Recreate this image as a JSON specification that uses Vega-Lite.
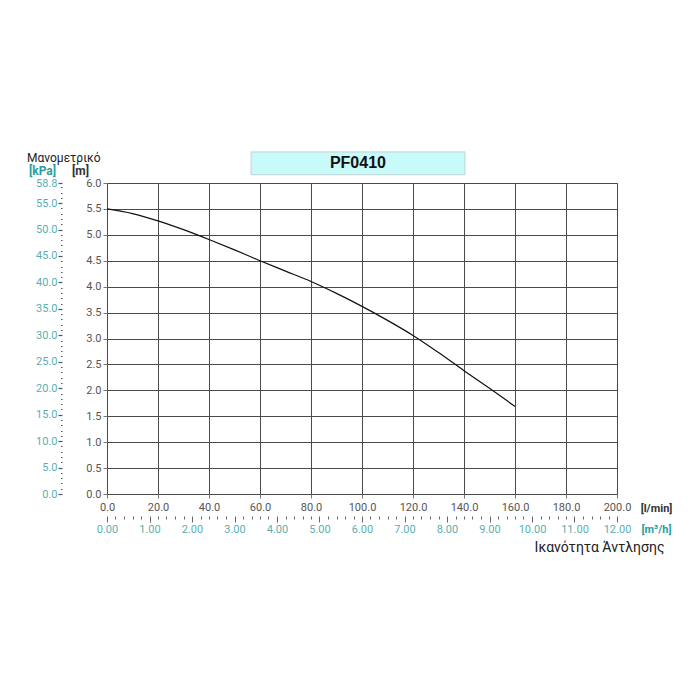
{
  "$schema": "https://vega.github.io/schema/vega-lite/v6.json",
  "autosize": "none",
  "width": 510,
  "height": 311,
  "padding": {"left": 107, "top": 183, "right": 83, "bottom": 206},
  "background": "white",
  "title": {
    "text": "Μανομετρικό",
    "anchor": "start",
    "frame": "group",
    "dx": -80,
    "dy": 34,
    "offset": 21,
    "fontSize": 12,
    "fontWeight": "normal",
    "font": "Roboto",
    "color": "#222"
  },
  "datasets": {
    "curve": [
      {"flow": 0, "head": 5.5},
      {"flow": 10, "head": 5.41},
      {"flow": 20, "head": 5.27},
      {"flow": 30, "head": 5.1},
      {"flow": 40, "head": 4.91},
      {"flow": 50, "head": 4.71},
      {"flow": 60, "head": 4.5},
      {"flow": 70, "head": 4.3},
      {"flow": 80, "head": 4.1},
      {"flow": 90, "head": 3.87},
      {"flow": 100, "head": 3.62},
      {"flow": 110, "head": 3.35},
      {"flow": 120, "head": 3.06},
      {"flow": 130, "head": 2.73},
      {"flow": 140, "head": 2.38},
      {"flow": 150, "head": 2.04},
      {"flow": 160, "head": 1.69}
    ],
    "model": [{"model": "PF0410"}]
  },
  "layer": [
    {
      "data": {"name": "model"},
      "mark": {"type": "rect", "fill": "#c8fafa", "stroke": "#b8c8c8", "strokeWidth": 0.8},
      "encoding": {
        "x": {
          "datum": 56.5,
          "type": "quantitative",
          "scale": {"domain": [0, 200], "nice": false},
          "axis": {
            "orient": "bottom",
            "offset": 22,
            "values": [0,3.3333,6.6667,10,13.3333,16.6667,20,23.3333,26.6667,30,33.3333,36.6667,40,43.3333,46.6667,50,53.3333,56.6667,60,63.3333,66.6667,70,73.3333,76.6667,80,83.3333,86.6667,90,93.3333,96.6667,100,103.3333,106.6667,110,113.3333,116.6667,120,123.3333,126.6667,130,133.3333,136.6667,140,143.3333,146.6667,150,153.3333,156.6667,160,163.3333,166.6667,170,173.3333,176.6667,180,183.3333,186.6667,190,193.3333,196.6667,200],
            "labelExpr": "abs(datum.value*0.06 - round(datum.value*0.06)) < 0.001 ? format(datum.value*0.06, '.2f') : ''",
            "labelOverlap": false,
            "labelBound": false,
            "labelFlush": false,
            "labelColor": "#5aafb0",
            "labelFontSize": 11,
            "labelFont": "Roboto",
            "labelPadding": 1,
            "domain": false,
            "grid": false,
            "tickColor": "#666",
            "tickWidth": 1,
            "tickSize": {"condition": {"test": "abs(datum.value*0.06 - round(datum.value*0.06)) < 0.001", "value": 6}, "value": 3},
            "title": "[m³/h]",
            "titleAngle": 0,
            "titleX": 549,
            "titleY": 13,
            "titleAlign": "center",
            "titleBaseline": "middle",
            "titleColor": "#2a9d9e",
            "titleFontSize": 11,
            "titleFontWeight": "bold",
            "titleFont": "Roboto"
          }
        },
        "x2": {"datum": 140.4},
        "y": {
          "datum": 6.16,
          "type": "quantitative",
          "scale": {"domain": [0, 6], "nice": false},
          "axis": {
            "orient": "left",
            "offset": 45,
            "values": [0,0.10204,0.20408,0.30612,0.40816,0.5102,0.61224,0.71429,0.81633,0.91837,1.02041,1.12245,1.22449,1.32653,1.42857,1.53061,1.63265,1.73469,1.83673,1.93878,2.04082,2.14286,2.2449,2.34694,2.44898,2.55102,2.65306,2.7551,2.85714,2.95918,3.06122,3.16327,3.26531,3.36735,3.46939,3.57143,3.67347,3.77551,3.87755,3.97959,4.08163,4.18367,4.28571,4.38776,4.4898,4.59184,4.69388,4.79592,4.89796,5,5.10204,5.20408,5.30612,5.40816,5.5102,5.61224,5.71429,5.81633,5.91837,6],
            "labelExpr": "datum.value > 5.99 ? '58.8' : (abs(datum.value*9.8/5 - round(datum.value*9.8/5)) < 0.01 ? format(datum.value*9.8, '.1f') : '')",
            "labelOverlap": false,
            "labelBound": false,
            "labelFlush": false,
            "labelColor": "#5aafb0",
            "labelFontSize": 11,
            "labelFont": "Roboto",
            "labelPadding": 1,
            "domain": false,
            "grid": false,
            "tickColor": "#555",
            "tickWidth": 1.2,
            "tickSize": {"condition": {"test": "datum.value > 5.99 || abs(datum.value*9.8/5 - round(datum.value*9.8/5)) < 0.01", "value": 4}, "value": 1.5},
            "title": "[kPa]",
            "titleAngle": 0,
            "titleX": -20,
            "titleY": -13,
            "titleAlign": "center",
            "titleBaseline": "middle",
            "titleColor": "#2a9d9e",
            "titleFontSize": 12,
            "titleFontWeight": "bold",
            "titleFont": "Roboto"
          }
        },
        "y2": {"datum": 6.6}
      }
    },
    {
      "data": {"name": "model"},
      "mark": {"type": "text", "font": "Liberation Sans", "fontSize": 16, "fontWeight": "bold", "color": "#111", "baseline": "middle", "align": "center"},
      "encoding": {
        "x": {
          "datum": 98.4,
          "type": "quantitative",
          "scale": {"domain": [0, 200], "nice": false},
          "axis": {
            "orient": "bottom",
            "offset": 22,
            "values": [],
            "labels": false,
            "ticks": false,
            "domain": false,
            "grid": false,
            "title": "Ικανότητα Άντλησης",
            "titleAngle": 0,
            "titleX": 492,
            "titleY": 31,
            "titleAlign": "center",
            "titleBaseline": "middle",
            "titleColor": "#222",
            "titleFontSize": 14,
            "titleFontWeight": "normal",
            "titleFont": "Roboto"
          }
        },
        "y": {
          "datum": 6.38,
          "type": "quantitative",
          "scale": {"domain": [0, 6], "nice": false},
          "axis": null
        },
        "text": {"field": "model"}
      }
    },
    {
      "data": {"name": "curve"},
      "mark": {"type": "line", "color": "#111", "strokeWidth": 1.2, "interpolate": "monotone"},
      "encoding": {
        "x": {
          "field": "flow",
          "type": "quantitative",
          "scale": {"domain": [0, 200], "nice": false},
          "axis": {
            "orient": "bottom",
            "values": [0, 20, 40, 60, 80, 100, 120, 140, 160, 180, 200],
            "format": ".1f",
            "labelColor": "#555",
            "labelFontSize": 11,
            "labelFont": "Roboto",
            "labelPadding": 3,
            "labelFlush": false,
            "labelOverlap": false,
            "domain": false,
            "tickColor": "#777",
            "tickSize": 4,
            "grid": true,
            "gridColor": "#4a4a4a",
            "gridWidth": 1,
            "title": "[l/min]",
            "titleAngle": 0,
            "titleX": 549,
            "titleY": 14,
            "titleAlign": "center",
            "titleBaseline": "middle",
            "titleColor": "#333",
            "titleFontSize": 11,
            "titleFontWeight": "bold",
            "titleFont": "Roboto"
          }
        },
        "y": {
          "field": "head",
          "type": "quantitative",
          "scale": {"domain": [0, 6], "nice": false},
          "axis": {
            "orient": "left",
            "values": [0, 0.5, 1, 1.5, 2, 2.5, 3, 3.5, 4, 4.5, 5, 5.5, 6],
            "format": ".1f",
            "labelColor": "#555",
            "labelFontSize": 11,
            "labelFont": "Roboto",
            "labelPadding": 2,
            "labelFlush": false,
            "labelOverlap": false,
            "domain": false,
            "tickColor": "#777",
            "tickSize": 4,
            "grid": true,
            "gridColor": "#4a4a4a",
            "gridWidth": 1,
            "title": "[m]",
            "titleAngle": 0,
            "titleX": -27,
            "titleY": -13,
            "titleAlign": "center",
            "titleBaseline": "middle",
            "titleColor": "#333",
            "titleFontSize": 12,
            "titleFontWeight": "bold",
            "titleFont": "Roboto"
          }
        }
      }
    }
  ],
  "resolve": {
    "scale": {"x": "independent", "y": "independent"},
    "axis": {"x": "independent", "y": "independent"}
  },
  "config": {
    "view": {"stroke": "#9a9a9a", "strokeWidth": 1}
  }
}
